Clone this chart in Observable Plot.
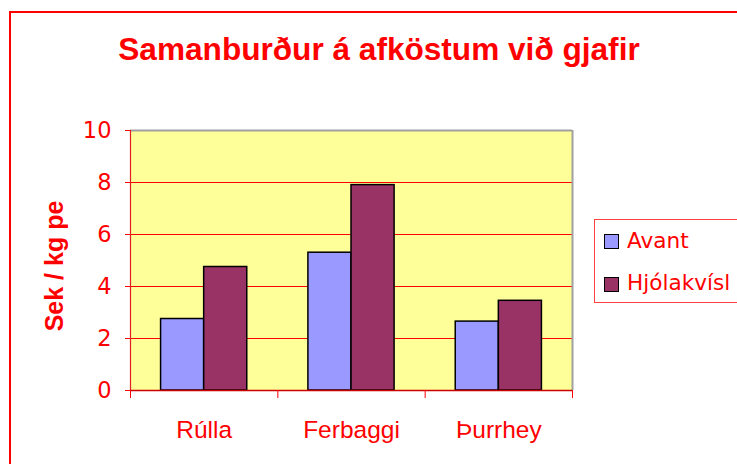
<!DOCTYPE html>
<html>
<head>
<meta charset="utf-8">
<script src="https://cdn.jsdelivr.net/npm/d3@7"></script>
<script src="https://cdn.jsdelivr.net/npm/@observablehq/plot@0.6"></script>
<style>
  html, body { margin: 0; padding: 0; background: #fff; overflow: hidden; }
  #wrap { position: relative; width: 737px; height: 464px; overflow: hidden; }
  #wrap svg { position: absolute; left: 0; top: 0; }
  .border { position: absolute; left: 9px; top: 11px; width: 900px; height: 600px; border: 2px solid #ff0000; box-sizing: border-box; }
  .title { position: absolute; left: 379px; top: 34px; transform: translateX(-50%); white-space: nowrap;
           font: bold 31.6px "Liberation Sans", Arial, sans-serif; line-height: 1; color: #ff0000; }
  .ylabel { position: absolute; left: 54.3px; top: 266px; transform: translate(-50%, -50%) rotate(-90deg); white-space: nowrap;
            font: bold 25px "Liberation Sans", Arial, sans-serif; line-height: 1; color: #ff0000; }
  .legend { position: absolute; left: 594px; top: 219px; width: 200px; height: 84px; border: 1px solid #ff4040; box-sizing: border-box; }
  .sw { position: absolute; width: 15px; height: 15px; border: 1.5px solid #000; box-sizing: border-box; }
  .lt { position: absolute; white-space: nowrap; font: 21.6px "DejaVu Sans", sans-serif; line-height: 1; color: #ff0000; }
  g[aria-label^="y-axis"] text { font-family: "DejaVu Sans", sans-serif; font-size: 22.5px; fill: #ff0000; }
  g[aria-label^="x-axis"] text { font-family: "Liberation Sans", Arial, sans-serif; font-size: 24.5px; fill: #ff0000; }
</style>
</head>
<body>
<div id="wrap"></div>
<script>
// ---- data ----
const title = "Samanburður á afköstum við gjafir";
const yLabel = "Sek / kg pe";
const categories = ["Rúlla", "Ferbaggi", "Þurrhey"];
const seriesNames = ["Avant", "Hjólakvísl"];
const avant = [2.75, 5.3, 2.65];
const hjolakvisl = [4.75, 7.9, 3.45];
const yTicks = [0, 2, 4, 6, 8, 10];
const seriesColors = ["#9999FF", "#993366"];

// ---- layout ----
const W = 737, H = 464;
const mL = 130, mR = 165, mT = 130, mB = 74;
const pad = 0.415;
const plotW = W - mL - mR;
const step = plotW / categories.length;
const bw = step * (1 - pad);

const table = categories.map((c, i) => ({cat: c, a: avant[i], h: hjolakvisl[i]}));

const chart = Plot.plot({
  width: W, height: H,
  marginLeft: mL, marginRight: mR, marginTop: mT, marginBottom: mB,
  style: {background: "transparent", color: "#ff0000", fontFamily: "Liberation Sans, Arial, sans-serif"},
  x: {domain: categories, type: "band", paddingInner: pad, paddingOuter: pad / 2, align: 0.5, round: false,
      label: null, tickSize: 0, tickPadding: 30},
  y: {domain: [0, 10], ticks: yTicks, tickSize: 5, tickPadding: 14, label: null, tickFormat: d => String(d)},
  marks: [
    Plot.frame({fill: "#FFFF99", stroke: "none"}),
    Plot.ruleY(yTicks.filter(v => v > 0 && v < 10), {stroke: "#ff0000", strokeWidth: 1}),
    Plot.ruleY([yTicks[yTicks.length - 1]], {stroke: "#a0a0a0", strokeWidth: 2}),
    Plot.ruleX([categories[categories.length - 1]], {dx: step / 2, stroke: "#a0a0a0", strokeWidth: 2}),
    Plot.barY(table, {x: "cat", y: "a", fill: seriesColors[0], stroke: "#000", strokeWidth: 1.5, insetRight: bw / 2}),
    Plot.barY(table, {x: "cat", y: "h", fill: seriesColors[1], stroke: "#000", strokeWidth: 1.5, insetLeft: bw / 2}),
    Plot.ruleX([categories[0]], {dx: -step / 2, stroke: "#e02020", strokeWidth: 1.2}),
    Plot.ruleY([0], {stroke: "#cc0000", strokeWidth: 1.5}),
    Plot.ruleX(categories, {x: d => d, dx: -step / 2, y1: 0, y2: 0, insetBottom: -8, stroke: "#ff0000"}),
    Plot.ruleX([categories[categories.length - 1]], {dx: step / 2, y1: 0, y2: 0, insetBottom: -8, stroke: "#ff0000"})
  ]
});

const wrap = document.getElementById("wrap");
wrap.appendChild(chart);

const border = document.createElement("div");
border.className = "border";
wrap.appendChild(border);

const t = document.createElement("div");
t.className = "title"; t.textContent = title;
wrap.appendChild(t);

const yl = document.createElement("div");
yl.className = "ylabel"; yl.textContent = yLabel;
wrap.appendChild(yl);

const lg = document.createElement("div");
lg.className = "legend";
wrap.appendChild(lg);
const swTops = [234, 277];
const txtTops = [229.7, 271.7];
seriesNames.forEach((name, i) => {
  const sw = document.createElement("div");
  sw.className = "sw";
  sw.style.left = "604px"; sw.style.top = swTops[i] + "px";
  sw.style.background = seriesColors[i];
  wrap.appendChild(sw);
  const lt = document.createElement("div");
  lt.className = "lt"; lt.textContent = name;
  lt.style.left = "627px"; lt.style.top = txtTops[i] + "px";
  wrap.appendChild(lt);
});
</script>
</body>
</html>
